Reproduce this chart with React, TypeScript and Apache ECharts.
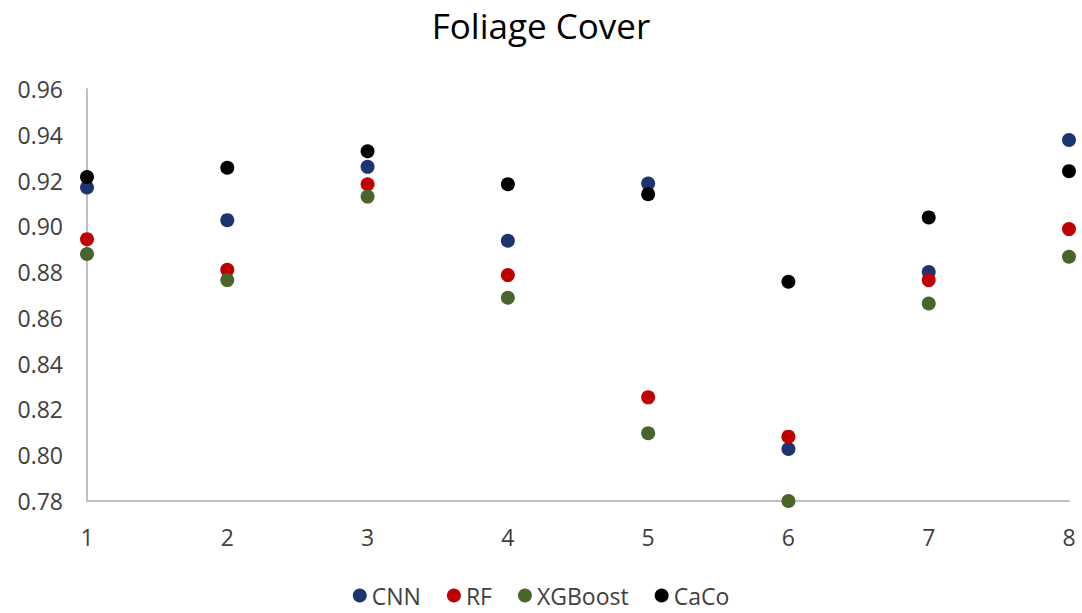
import React, { useEffect, useRef } from "react";
import * as echarts from "echarts";

const xValues = [1, 2, 3, 4, 5, 6, 7, 8];
const cnn = [0.917, 0.9027, 0.926, 0.8937, 0.9187, 0.8027, 0.88, 0.9377];
const rf = [0.8944, 0.881, 0.9184, 0.8787, 0.8253, 0.8081, 0.8765, 0.8988];
const xgboost = [0.8879, 0.8765, 0.913, 0.8688, 0.8096, 0.78, 0.8663, 0.8867];
const caco = [0.9215, 0.9256, 0.9328, 0.9184, 0.914, 0.8758, 0.9039, 0.9241];

const seriesNames = ["CNN", "RF", "XGBoost", "CaCo"];
const seriesColors = ["#1C3470", "#C00000", "#48652C", "#000000"];
const seriesData = [cnn, rf, xgboost, caco];

export default function App() {
  const ref = useRef<HTMLDivElement>(null);
  useEffect(() => {
    document.body.style.margin = "0";
    const chart = echarts.init(ref.current!, null, { renderer: "svg" });
    const font = "'Open Sans', sans-serif";
    chart.setOption({
      animation: false,
      backgroundColor: "#ffffff",
      title: {
        text: "Foliage Cover",
        left: "center",
        top: 3,
        textStyle: { fontFamily: font, fontSize: 35, fontWeight: "normal", color: "#000000" },
      },
      legend: {
        bottom: 1,
        left: "center",
        itemGap: 26,
        itemWidth: 14,
        itemHeight: 14,
        icon: "circle",
        textStyle: { fontFamily: font, fontSize: 23, color: "#404040" },
        data: seriesNames,
      },
      grid: { left: 87, right: 13, top: 89, bottom: 112, containLabel: false },
      xAxis: {
        type: "value",
        min: 1,
        max: 8,
        interval: 1,
        axisLine: { show: true, lineStyle: { color: "#BFBFBF", width: 2 } },
        axisTick: { show: false },
        splitLine: { show: false },
        axisLabel: { margin: 24, fontFamily: font, fontSize: 23, color: "#404040" },
      },
      yAxis: {
        type: "value",
        min: 0.78,
        max: 0.96,
        interval: 0.02,
        axisLine: { show: true, lineStyle: { color: "#BFBFBF", width: 2 } },
        axisTick: { show: false },
        splitLine: { show: false },
        axisLabel: {
          margin: 24,
          fontFamily: font,
          fontSize: 23,
          color: "#404040",
          formatter: (v: number) => v.toFixed(2),
        },
      },
      series: seriesNames.map((name, i) => ({
        name,
        type: "scatter",
        symbol: "circle",
        symbolSize: 14,
        clip: false,
        itemStyle: { color: seriesColors[i], opacity: 1 },
        data: xValues.map((x, j) => [x, seriesData[i][j]]),
      })),
    });
    return () => chart.dispose();
  }, []);
  return <div ref={ref} style={{ width: 1082, height: 613 }} />;
}
